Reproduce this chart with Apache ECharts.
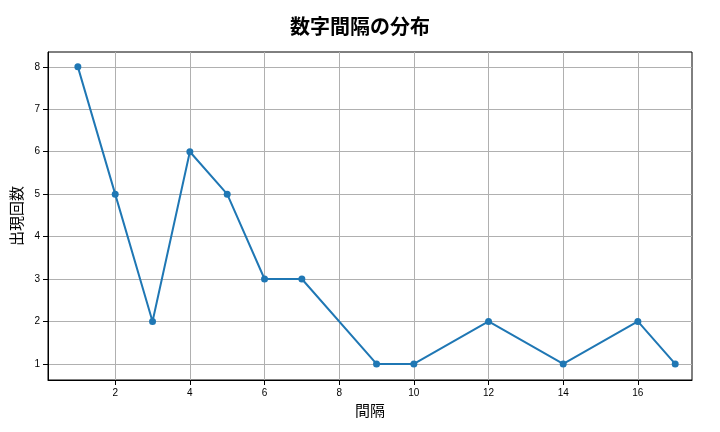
<!DOCTYPE html>
<html><head><meta charset="utf-8">
<script src="https://cdn.jsdelivr.net/npm/echarts@6/dist/echarts.min.js"></script>
<style>body{margin:0}#c{width:720px;height:432px}</style></head>
<body><div id="c"></div>
<script>
const intervals = [1, 2, 3, 4, 5, 6, 7, 9, 10, 12, 14, 16, 17];
const counts = [8, 5, 2, 6, 5, 3, 3, 1, 1, 2, 1, 2, 1];
const xTicks = [2, 4, 6, 8, 10, 12, 14, 16];
const yTicks = [1, 2, 3, 4, 5, 6, 7, 8];

const font = '"Noto Sans CJK JP", sans-serif';
const chart = echarts.init(document.getElementById('c'));
chart.setOption({
  animation: false,
  title: { text: '数字間隔の分布', left: 'center', top: 11,
    textStyle: { fontFamily: font, fontSize: 20, fontWeight: 'bold', color: '#000' } },
  grid: { left: 48, right: 28, top: 52, bottom: 52, show: true, borderColor: '#000', borderWidth: 1 },
  xAxis: {
    type: 'value', min: 0.2, max: 17.45,
    name: '間隔', nameLocation: 'middle', nameGap: 20,
    nameTextStyle: { fontFamily: font, fontSize: 15, color: '#000' },
    axisLine: { lineStyle: { color: '#000' } },
    axisTick: { customValues: xTicks, lineStyle: { color: '#000' } },
    axisLabel: { customValues: xTicks, color: '#000', fontSize: 10 },
    splitLine: { show: true, lineStyle: { color: '#b0b0b0' } }
  },
  yAxis: {
    type: 'value', min: 0.62, max: 8.35,
    name: '出現回数', nameLocation: 'middle', nameGap: 20,
    nameTextStyle: { fontFamily: font, fontSize: 15, color: '#000' },
    axisLine: { show: true, lineStyle: { color: '#000' } },
    axisTick: { show: true, customValues: yTicks, lineStyle: { color: '#000' } },
    axisLabel: { customValues: yTicks, color: '#000', fontSize: 10 },
    splitLine: { show: true, lineStyle: { color: '#b0b0b0' } }
  },
  series: [{
    type: 'line',
    data: intervals.map((x, i) => [x, counts[i]]),
    symbol: 'circle', symbolSize: 7,
    lineStyle: { color: '#1f77b4', width: 2 },
    itemStyle: { color: '#1f77b4' }
  }]
});
</script></body></html>
